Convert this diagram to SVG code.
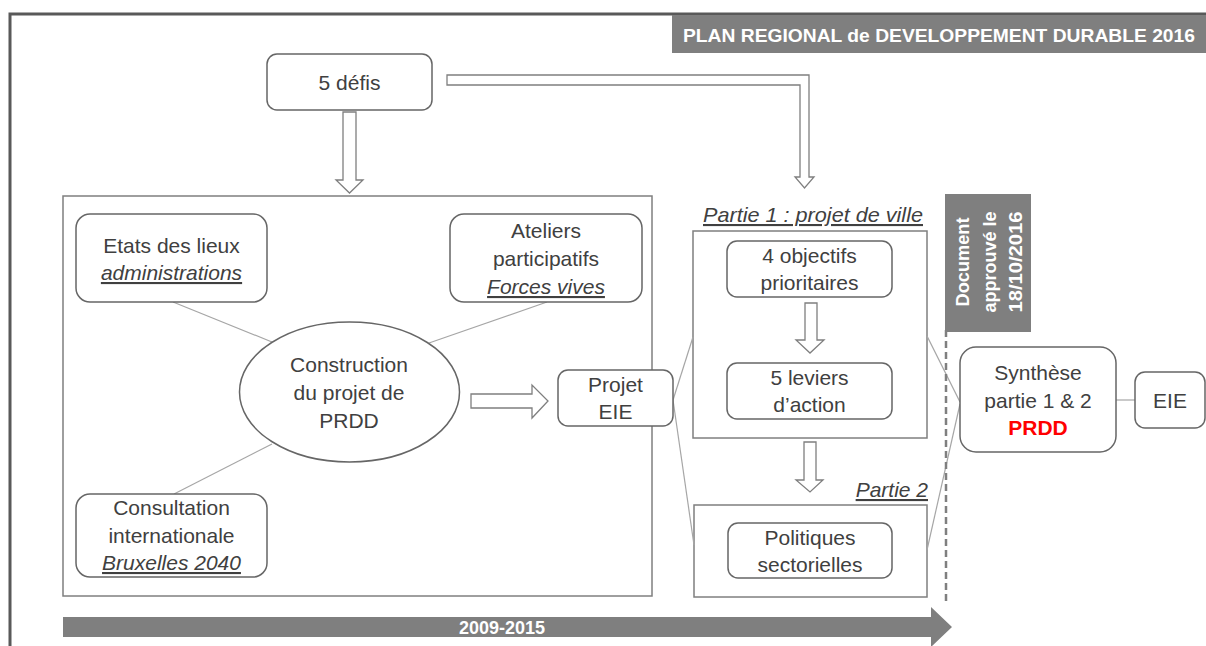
<svg xmlns="http://www.w3.org/2000/svg" width="1206" height="646" viewBox="0 0 1206 646">
<style>
.t{font-family:"Liberation Sans",Arial,sans-serif;font-size:21px;fill:#404040;text-anchor:middle}
.i{font-style:italic;text-decoration:underline}
.box{fill:#fff;stroke:#666;stroke-width:1.5}
.frame{fill:none;stroke:#7f7f7f;stroke-width:1.5}
.arr{fill:#fff;stroke:#7f7f7f;stroke-width:1.3}
.ln{stroke:#a6a6a6;stroke-width:1.2;fill:none}
.w{font-family:"Liberation Sans",Arial,sans-serif;font-weight:bold;fill:#fff}
</style>
<rect width="1206" height="646" fill="#fff"/>
<path d="M10 646 V14 H1206" fill="none" stroke="#595959" stroke-width="3"/>
<g id="title">
<rect x="672" y="15" width="534" height="38" fill="#7f7f7f"/>
<text class="w" x="939" y="42" font-size="19" text-anchor="middle" textLength="512" lengthAdjust="spacingAndGlyphs">PLAN REGIONAL de DEVELOPPEMENT DURABLE 2016</text>
</g>
<g id="frames">
<rect class="frame" x="63" y="196" width="589" height="400"/>
<rect class="frame" x="693" y="231" width="234" height="207"/>
<rect class="frame" x="694" y="505" width="233" height="92"/>
<text class="t i" x="813" y="222" font-size="20" textLength="220" lengthAdjust="spacingAndGlyphs">Partie 1 : projet de ville</text>
<text class="t i" x="928" y="497" font-size="20" style="text-anchor:end">Partie 2</text>
</g>
<g id="connectors">
<line class="ln" x1="173" y1="302" x2="272" y2="342"/>
<line class="ln" x1="547" y1="302" x2="429" y2="343"/>
<line class="ln" x1="174" y1="494" x2="272" y2="444"/>
<line class="ln" x1="673" y1="400" x2="693" y2="337"/>
<line class="ln" x1="673" y1="400" x2="694" y2="545"/>
<line class="ln" x1="927" y1="336" x2="960" y2="402"/>
<line class="ln" x1="927" y1="550" x2="960" y2="404"/>
<line class="ln" x1="1116" y1="400" x2="1135" y2="400"/>
<polygon class="arr" points="343,112 356,112 356,180 363,180 349.5,193 336,180 343,180"/>
<polygon class="arr" points="447,75 809,75 809,177 814,177 804.5,188 795,177 800,177 800,85 447,85"/>
<polygon class="arr" points="471,394 532,394 532,385 548,401 532,418 532,408 471,408"/>
<polygon class="arr" points="805,303 817,303 817,340 824,340 810,353 796,340 805,340"/>
<polygon class="arr" points="804,442 816,442 816,480 823,480 810,492 796,480 804,480"/>
</g>
<g id="defis">
<rect class="box" x="267" y="54" width="165" height="56" rx="10"/>
<text class="t" x="349.5" y="90" font-size="22">5 défis</text>
</g>
<g id="etats">
<rect class="box" x="76" y="214" width="191" height="88" rx="14"/>
<text class="t" x="171.5" y="253">Etats des lieux</text>
<text class="t i" x="171.5" y="280">administrations</text>
</g>
<g id="ateliers">
<rect class="box" x="450" y="214" width="192" height="88" rx="14"/>
<text class="t" x="546" y="238">Ateliers</text>
<text class="t" x="546" y="266">participatifs</text>
<text class="t i" x="546" y="294">Forces vives</text>
</g>
<g id="construction">
<ellipse cx="349.5" cy="392" rx="110" ry="70" fill="#fff" stroke="#666" stroke-width="1.5"/>
<text class="t" x="349" y="372">Construction</text>
<text class="t" x="349" y="400">du projet de</text>
<text class="t" x="349" y="428">PRDD</text>
</g>
<g id="consultation">
<rect class="box" x="76" y="494" width="191" height="83" rx="14"/>
<text class="t" x="171.5" y="515">Consultation</text>
<text class="t" x="171.5" y="543">internationale</text>
<text class="t i" x="171.5" y="570">Bruxelles 2040</text>
</g>
<g id="projet-eie">
<rect class="box" x="558" y="370" width="115" height="56" rx="10"/>
<text class="t" x="615.5" y="392">Projet</text>
<text class="t" x="615.5" y="419">EIE</text>
</g>
<g id="objectifs">
<rect class="box" x="727" y="241" width="165" height="56" rx="10"/>
<text class="t" x="809.5" y="263">4 objectifs</text>
<text class="t" x="809.5" y="290">prioritaires</text>
</g>
<g id="leviers">
<rect class="box" x="727" y="363" width="165" height="56" rx="10"/>
<text class="t" x="809.5" y="385">5 leviers</text>
<text class="t" x="809.5" y="412">d’action</text>
</g>
<g id="politiques">
<rect class="box" x="728" y="523" width="164" height="55" rx="10"/>
<text class="t" x="810" y="545">Politiques</text>
<text class="t" x="810" y="572">sectorielles</text>
</g>
<g id="document">
<line x1="946" y1="330" x2="946" y2="602" stroke="#7f7f7f" stroke-width="2.5" stroke-dasharray="7,4"/>
<rect x="945" y="194" width="86" height="138" fill="#7f7f7f"/>
<g transform="translate(0,262) rotate(-90)">
<text class="w" x="0" y="969" font-size="19" text-anchor="middle" textLength="89" lengthAdjust="spacingAndGlyphs">Document</text>
<text class="w" x="0" y="996" font-size="19" text-anchor="middle" textLength="101" lengthAdjust="spacingAndGlyphs">approuvé le</text>
<text class="w" x="0" y="1022" font-size="19" text-anchor="middle" textLength="101" lengthAdjust="spacingAndGlyphs">18/10/2016</text>
</g>
</g>
<g id="synthese">
<rect class="box" x="960" y="347" width="156" height="105" rx="16"/>
<text class="t" x="1038" y="380">Synthèse</text>
<text class="t" x="1038" y="408">partie 1 &amp; 2</text>
<text class="t" x="1038" y="435" style="fill:#ff0000;font-weight:bold">PRDD</text>
</g>
<g id="eie">
<rect class="box" x="1135" y="372" width="70" height="56" rx="10"/>
<text class="t" x="1170" y="408">EIE</text>
</g>
<g id="timeline">
<polygon points="63,617 931,617 931,607 952,627 931,647 931,637 63,637" fill="#7f7f7f"/>
<text class="w" x="502" y="634" font-size="18" text-anchor="middle">2009-2015</text>
</g>
</svg>
